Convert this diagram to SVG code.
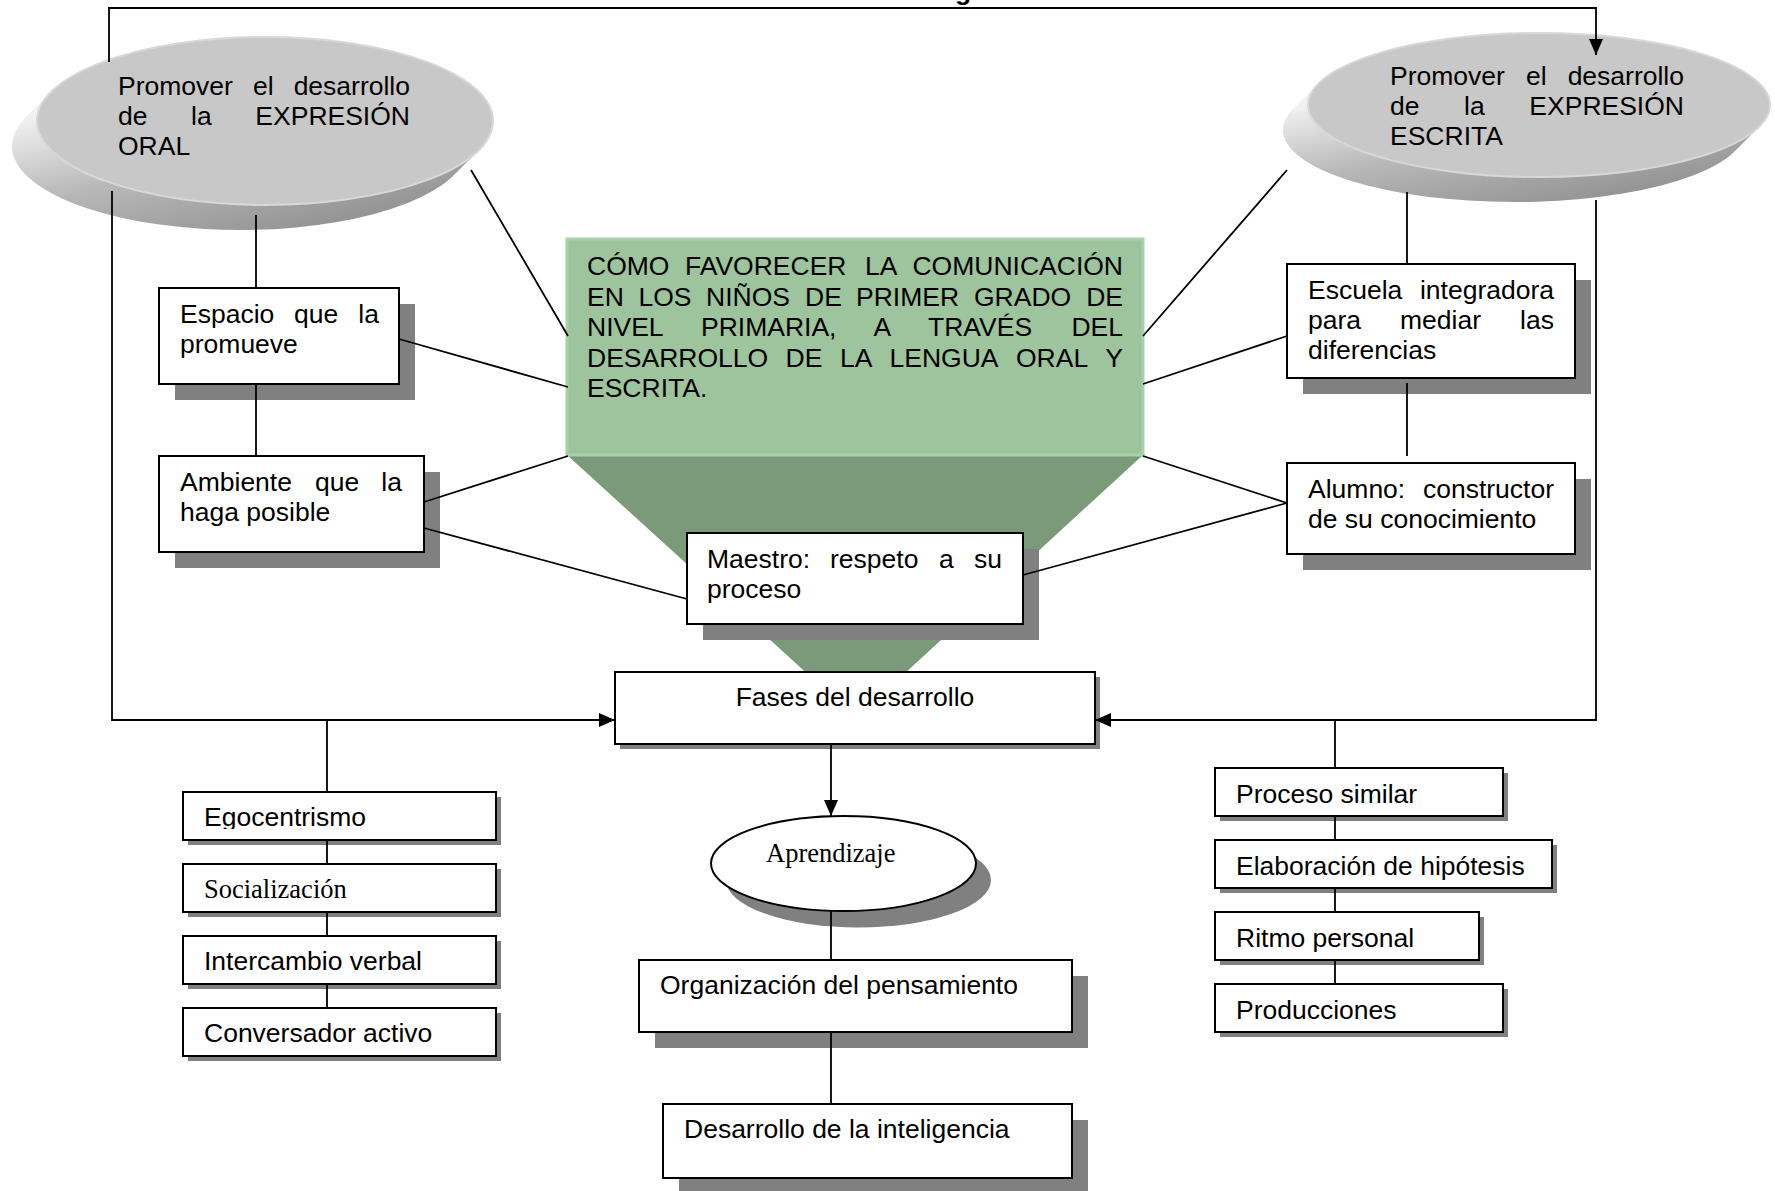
<svg xmlns="http://www.w3.org/2000/svg" width="1775" height="1191" viewBox="0 0 1775 1191">
<style>
.t{font-family:"Liberation Sans",Arial,sans-serif;font-size:26.5px;fill:#000}
.ts{font-family:"Liberation Serif","Times New Roman",serif;font-size:26.5px;fill:#000}
.box{fill:#fff;stroke:#000;stroke-width:2}
.sh{fill:#808080}
.ln{stroke:#000;stroke-width:1.8;fill:none}
.face{fill:#c8c8c8;stroke:#d8d8d8;stroke-width:2}
.e{text-anchor:end}
</style>
<defs>
<linearGradient id="side" x1="0" y1="0.2" x2="0.6" y2="1">
<stop offset="0" stop-color="#f2f2f2"/>
<stop offset="0.5" stop-color="#b8b8b8"/>
<stop offset="1" stop-color="#959595"/>
</linearGradient>
<marker id="ah" markerWidth="16" markerHeight="14" refX="16" refY="7" orient="auto" markerUnits="userSpaceOnUse">
<path d="M0,0 L16,7 L0,14 Z" fill="#000"/>
</marker>
<clipPath id="cg"><rect x="183" y="792" width="313" height="37"/></clipPath>
</defs>
<rect width="1775" height="1191" fill="#fff"/>

<text class="t" x="955" y="-0.5" font-weight="bold">g</text>

<g id="oral">
<path d="M51,92 L26,117 A228,84 0 0 0 454,175 L479,150 Z" fill="url(#side)"/>
<ellipse class="face" cx="265" cy="121" rx="228" ry="84"/>
<text class="t" y="95"><tspan x="118">Promover</tspan><tspan x="253">el</tspan><tspan x="410" class="e">desarrollo</tspan></text>
<text class="t" y="125"><tspan x="118">de</tspan><tspan x="191">la</tspan><tspan x="410" class="e">EXPRESIÓN</tspan></text>
<text class="t" x="118" y="155">ORAL</text>
</g>

<g id="escrita">
<path d="M1318,84 L1293,109 A231,72 0 0 0 1735,151 L1760,126 Z" fill="url(#side)"/>
<ellipse class="face" cx="1539" cy="105" rx="231" ry="72"/>
<text class="t" y="84.5"><tspan x="1390">Promover</tspan><tspan x="1526">el</tspan><tspan x="1684" class="e">desarrollo</tspan></text>
<text class="t" y="114.5"><tspan x="1390">de</tspan><tspan x="1464">la</tspan><tspan x="1684" class="e">EXPRESIÓN</tspan></text>
<text class="t" x="1390" y="144.5">ESCRITA</text>
</g>

<g id="central">
<path d="M567,455 L1143,455 L856,718 Z" fill="#7a9a7a"/>
<rect x="567" y="239" width="576" height="216" fill="#9dc49d" stroke="#a9d1a9" stroke-width="3"/>
<text class="t" y="275"><tspan x="587">CÓMO</tspan><tspan x="685">FAVORECER</tspan><tspan x="865">LA</tspan><tspan x="1123" class="e">COMUNICACIÓN</tspan></text>
<text class="t" y="305.5"><tspan x="587">EN</tspan><tspan x="638.5">LOS</tspan><tspan x="706">NIÑOS</tspan><tspan x="805">DE</tspan><tspan x="856">PRIMER</tspan><tspan x="974">GRADO</tspan><tspan x="1123" class="e">DE</tspan></text>
<text class="t" y="336"><tspan x="587">NIVEL</tspan><tspan x="701">PRIMARIA,</tspan><tspan x="873.5">A</tspan><tspan x="928">TRAVÉS</tspan><tspan x="1123" class="e">DEL</tspan></text>
<text class="t" y="366.5"><tspan x="587">DESARROLLO</tspan><tspan x="785.5">DE</tspan><tspan x="840">LA</tspan><tspan x="889.5">LENGUA</tspan><tspan x="1016">ORAL</tspan><tspan x="1123" class="e">Y</tspan></text>
<text class="t" x="587" y="397">ESCRITA.</text>
</g>

<g id="espacio">
<rect class="sh" x="175" y="304" width="240" height="96"/>
<rect class="box" x="159" y="288" width="240" height="96"/>
<text class="t" y="323"><tspan x="180">Espacio</tspan><tspan x="294">que</tspan><tspan x="379" class="e">la</tspan></text>
<text class="t" x="180" y="353">promueve</text>
</g>

<g id="ambiente">
<rect class="sh" x="175" y="472" width="265" height="96"/>
<rect class="box" x="159" y="456" width="265" height="96"/>
<text class="t" y="491"><tspan x="180">Ambiente</tspan><tspan x="315">que</tspan><tspan x="402" class="e">la</tspan></text>
<text class="t" x="180" y="521">haga posible</text>
</g>

<g id="escuela">
<rect class="sh" x="1303" y="280" width="288" height="114"/>
<rect class="box" x="1287" y="264" width="288" height="114"/>
<text class="t" y="299"><tspan x="1308">Escuela</tspan><tspan x="1554" class="e">integradora</tspan></text>
<text class="t" y="329"><tspan x="1308">para</tspan><tspan x="1400">mediar</tspan><tspan x="1554" class="e">las</tspan></text>
<text class="t" x="1308" y="359">diferencias</text>
</g>

<g id="alumno">
<rect class="sh" x="1303" y="479" width="288" height="91"/>
<rect class="box" x="1287" y="463" width="288" height="91"/>
<text class="t" y="498"><tspan x="1308">Alumno:</tspan><tspan x="1554" class="e">constructor</tspan></text>
<text class="t" x="1308" y="528">de su conocimiento</text>
</g>

<g id="maestro">
<rect class="sh" x="703" y="549" width="336" height="91"/>
<rect class="box" x="687" y="533" width="336" height="91"/>
<text class="t" y="568"><tspan x="707">Maestro:</tspan><tspan x="830">respeto</tspan><tspan x="939">a</tspan><tspan x="1002" class="e">su</tspan></text>
<text class="t" x="707" y="598">proceso</text>
</g>

<g id="fases">
<rect class="sh" x="620" y="677" width="480" height="72"/>
<rect class="box" x="615" y="672" width="480" height="72"/>
<text class="t" x="855" y="706" text-anchor="middle">Fases del desarrollo</text>
</g>

<g id="aprendizaje">
<ellipse class="sh" cx="858.5" cy="880" rx="132.5" ry="47.5"/>
<ellipse class="box" cx="843.5" cy="863.5" rx="132.5" ry="47.5"/>
<text class="ts" x="766" y="862">Aprendizaje</text>
</g>

<g id="organizacion">
<rect class="sh" x="655" y="976" width="433" height="72"/>
<rect class="box" x="639" y="960" width="433" height="72"/>
<text class="t" x="660" y="994">Organización del pensamiento</text>
</g>

<g id="inteligencia">
<rect class="sh" x="679" y="1120" width="409" height="74"/>
<rect class="box" x="663" y="1104" width="409" height="74"/>
<text class="t" x="684" y="1138">Desarrollo de la inteligencia</text>
</g>

<g id="egocentrismo">
<rect class="sh" x="188" y="797" width="313" height="48"/>
<rect class="box" x="183" y="792" width="313" height="48"/>
<text class="t" x="204" y="826" clip-path="url(#cg)">Egocentrismo</text>
</g>
<g id="socializacion">
<rect class="sh" x="188" y="869" width="313" height="48"/>
<rect class="box" x="183" y="864" width="313" height="48"/>
<text class="ts" x="204" y="898">Socialización</text>
</g>
<g id="intercambio">
<rect class="sh" x="188" y="941" width="313" height="48"/>
<rect class="box" x="183" y="936" width="313" height="48"/>
<text class="t" x="204" y="970">Intercambio verbal</text>
</g>
<g id="conversador">
<rect class="sh" x="188" y="1013" width="313" height="48"/>
<rect class="box" x="183" y="1008" width="313" height="48"/>
<text class="t" x="204" y="1042">Conversador activo</text>
</g>

<g id="proceso">
<rect class="sh" x="1220" y="773" width="288" height="48"/>
<rect class="box" x="1215" y="768" width="288" height="48"/>
<text class="t" x="1236" y="803">Proceso similar</text>
</g>
<g id="hipotesis">
<rect class="sh" x="1220" y="845" width="337" height="48"/>
<rect class="box" x="1215" y="840" width="337" height="48"/>
<text class="t" x="1236" y="875">Elaboración de hipótesis</text>
</g>
<g id="ritmo">
<rect class="sh" x="1220" y="917" width="264" height="48"/>
<rect class="box" x="1215" y="912" width="264" height="48"/>
<text class="t" x="1236" y="947">Ritmo personal</text>
</g>
<g id="producciones">
<rect class="sh" x="1220" y="989" width="288" height="48"/>
<rect class="box" x="1215" y="984" width="288" height="48"/>
<text class="t" x="1236" y="1019">Producciones</text>
</g>

<g id="connectors">
<path class="ln" d="M109,62 V8 H1596 V55" marker-end="url(#ah)"/>
<path class="ln" d="M112,191 V720 H615" marker-end="url(#ah)"/>
<path class="ln" d="M1596,200 V720 H1095" marker-end="url(#ah)"/>
<path class="ln" d="M831,744 V816" marker-end="url(#ah)"/>
<path class="ln" d="M831,911 V960 M831,1032 V1104"/>
<path class="ln" d="M256,215 V288 M256,384 V456"/>
<path class="ln" d="M1407,192 V264 M1407,383 V456"/>
<path class="ln" d="M471,170 L568,336 M399,339 L568,387 M424,502 L568,456 M424,528 L687,599"/>
<path class="ln" d="M1287,170 L1143,336 M1287,336 L1143,384 M1287,503 L1143,456 M1287,503 L1023,575"/>
<path class="ln" d="M327,720 V792 M327,840 V864 M327,912 V936 M327,984 V1008"/>
<path class="ln" d="M1335,720 V768 M1335,816 V840 M1335,888 V912 M1335,960 V984"/>
</g>
</svg>
